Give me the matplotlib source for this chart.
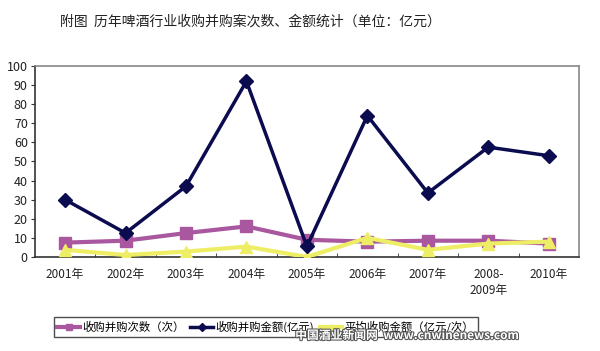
import matplotlib
matplotlib.use("Agg")
import matplotlib.pyplot as plt
import matplotlib.patheffects as pe
from matplotlib.ticker import FixedLocator, MultipleLocator

plt.rcParams['font.family'] = ['Noto Sans CJK SC', 'DejaVu Sans']

categories = ['2001年', '2002年', '2003年', '2004年', '2005年', '2006年', '2007年', '2008-\n2009年', '2010年']
counts = [7.5, 8.5, 12.5, 16, 9, 8, 8.5, 8.5, 7]
amounts = [30, 12.5, 37, 92, 5.5, 74, 33.5, 57.5, 53]
averages = [3.7, 1, 2.8, 5.4, 0, 10, 3.7, 7, 8]
labels = ['收购并购次数（次）', '收购并购金额(亿元)', '平均收购金额（亿元/次）']
title = '附图  历年啤酒行业收购并购案次数、金额统计（单位：亿元）'

fig = plt.figure(figsize=(6, 3.51), dpi=100)
ax = fig.add_axes([0.058, 0.268, 0.907, 0.544])
x = list(range(len(categories)))

l1, = ax.plot(x, counts, color='#a9579f', lw=3, marker='s', ms=8, zorder=3, label=labels[0])
l2, = ax.plot(x, amounts, color='#0b0b4f', lw=2.5, marker='D', ms=7, zorder=4, label=labels[1])
l3, = ax.plot(x, averages, color='#eeee66', lw=3, marker='^', ms=9, zorder=3, label=labels[2])

ax.set_xlim(-0.5, len(categories) - 0.5)
ax.set_ylim(0, 100)
ax.yaxis.set_major_locator(MultipleLocator(10))
ax.set_xticks(x)
ax.set_xticklabels(categories, fontsize=8.5, color='#222222', linespacing=1.3)
ax.tick_params(axis='x', length=0, pad=8)
ax.xaxis.set_minor_locator(FixedLocator([i + 0.5 for i in range(len(categories) - 1)]))
ax.tick_params(axis='x', which='minor', direction='in', length=3, color='#333333')
ax.tick_params(axis='y', labelsize=9, length=3, color='#333333', labelcolor='#222222', pad=2)

for s in ['top', 'right']:
    ax.spines[s].set_color('#888888')
    ax.spines[s].set_linewidth(1.2)
for s in ['left', 'bottom']:
    ax.spines[s].set_color('#333333')
    ax.spines[s].set_linewidth(1.2)

fig.text(0.417, 0.94, title, ha='center', va='center', fontsize=10, color='#222222')

leg = fig.legend(handles=[l1, l2, l3], loc='center', bbox_to_anchor=(0.443, 0.068),
                 ncol=3, fontsize=8.2, frameon=True, fancybox=False, edgecolor='#222222',
                 handlelength=2.0, handletextpad=0.2, columnspacing=0.5, borderpad=0.3,
                 markerscale=0.55)
leg.get_frame().set_linewidth(1.0)

wm = fig.text(0.492, 0.044, '中国酒业新闻网  www.cnwinenews.com', ha='left', va='center',
              fontsize=8.5, color='white', fontweight='bold', zorder=20,
              path_effects=[pe.withStroke(linewidth=1.5, foreground='#555555')])

fig.savefig('out.png', dpi=100)
